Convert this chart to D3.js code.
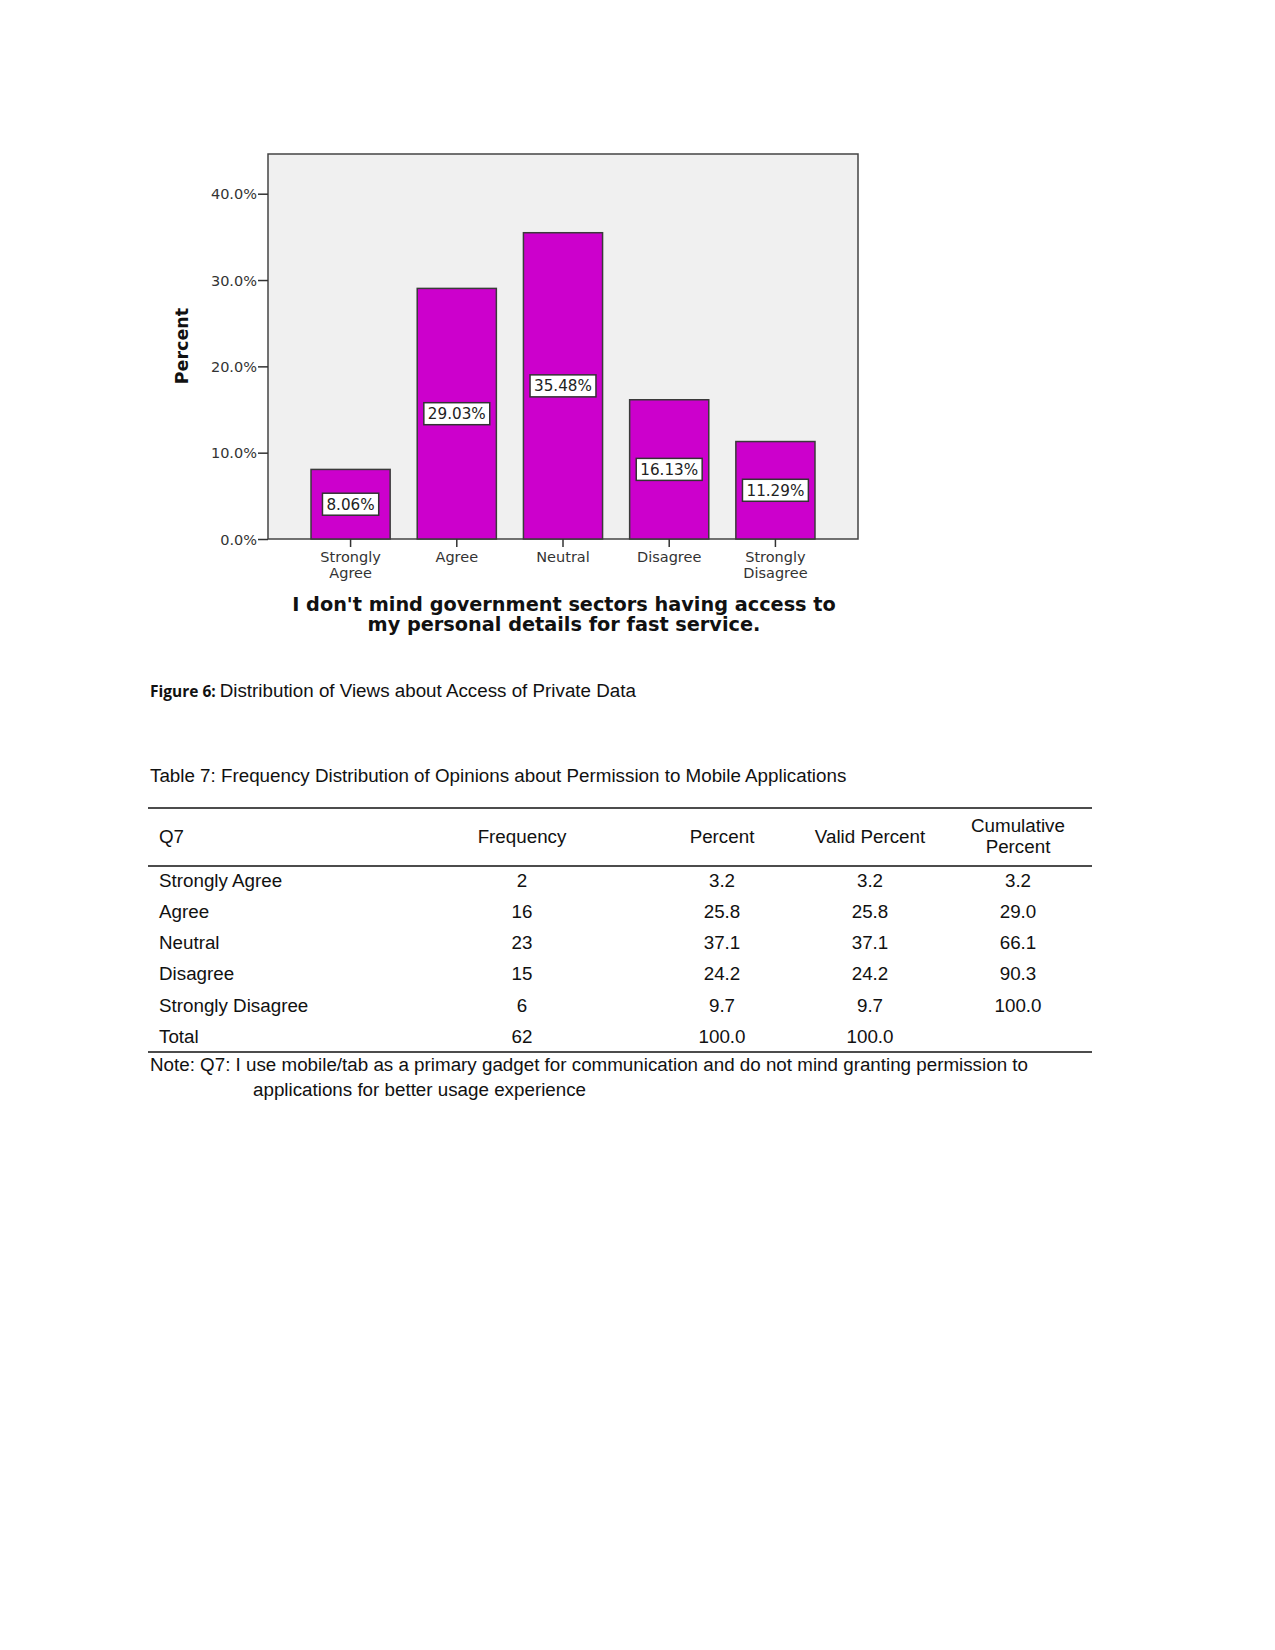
<!DOCTYPE html>
<html><head><meta charset="utf-8">
<script src="https://cdn.jsdelivr.net/npm/d3@7"></script>
<style>
html,body{margin:0;padding:0;background:#fff;}
svg{display:block;}
</style></head>
<body>
<script>
// ---- Data ----
const categories = [["Strongly","Agree"],["Agree"],["Neutral"],["Disagree"],["Strongly","Disagree"]];
const percents = [8.06, 29.03, 35.48, 16.13, 11.29];
const yTicks = [0, 10, 20, 30, 40];
const xTitle = ["I don't mind government sectors having access to", "my personal details for fast service."];
const yTitle = "Percent";

const tableHeader = ["Q7", "Frequency", "Percent", "Valid Percent", ["Cumulative","Percent"]];
const rowLabels = ["Strongly Agree","Agree","Neutral","Disagree","Strongly Disagree","Total"];
const frequency = ["2","16","23","15","6","62"];
const percentCol = ["3.2","25.8","37.1","24.2","9.7","100.0"];
const validPercent = ["3.2","25.8","37.1","24.2","9.7","100.0"];
const cumulativePercent = ["3.2","29.0","66.1","90.3","100.0",""];

const W = 1275, H = 1650;
const svg = d3.select("body").append("svg").attr("width", W).attr("height", H);
svg.append("rect").attr("width", W).attr("height", H).attr("fill", "#fff");

const chartFont = "DejaVu Sans, Verdana, sans-serif";

// ---- Chart ----
const plot = {left: 268, right: 858, top: 154, bottom: 539};
const y = d3.scaleLinear().domain([0, 44.6]).range([plot.bottom, plot.top]);
const keys = categories.map(c => c.join(" "));
const x = d3.scaleBand().domain(keys).range([plot.left, plot.right]).paddingInner(0.255).paddingOuter(0.405);

svg.append("rect").attr("x", plot.left).attr("y", plot.top)
  .attr("width", plot.right - plot.left).attr("height", plot.bottom - plot.top)
  .attr("fill", "#f0f0f0").attr("stroke", "#444").attr("stroke-width", 1.5);

// bars
svg.selectAll("rect.bar").data(percents).enter().append("rect")
  .attr("class", "bar")
  .attr("x", (d, i) => x(keys[i]))
  .attr("y", d => y(d))
  .attr("width", x.bandwidth())
  .attr("height", d => y(0) - y(d))
  .attr("fill", "#cc00cc").attr("stroke", "#3a3a3a").attr("stroke-width", 1.5);

// value labels
const lbl = svg.selectAll("g.lbl").data(percents).enter().append("g")
  .attr("class", "lbl")
  .attr("transform", (d, i) => `translate(${x(keys[i]) + x.bandwidth() / 2},${y(d / 2)})`);
const lblRect = lbl.append("rect").attr("fill", "#fff").attr("stroke", "#333").attr("stroke-width", 1.5);
const lblText = lbl.append("text").attr("text-anchor", "middle").attr("dy", "0.36em")
  .attr("font-family", chartFont).attr("font-size", 15.2)
  .attr("fill", "#222").text(d => d.toFixed(2) + "%");
lblText.each(function(d, i) {
  const w = this.getBBox().width;
  d3.select(lblRect.nodes()[i]).attr("x", -w / 2 - 4).attr("y", -11).attr("width", w + 8).attr("height", 22);
});

// y axis
const yAxis = d3.axisLeft(y).tickValues(yTicks).tickSize(10).tickFormat(d => d.toFixed(1) + "%");
const gy = svg.append("g").attr("transform", `translate(${plot.left},0)`).call(yAxis);
gy.select(".domain").remove();
gy.selectAll(".tick line").attr("stroke", "#333").attr("stroke-width", 1.5);
gy.selectAll(".tick text").attr("font-family", chartFont)
  .attr("font-size", 14.5).attr("fill", "#333").attr("x", -11).attr("dy", "0.36em");

// x axis
const xAxis = d3.axisBottom(x).tickSize(8).tickFormat("");
const gx = svg.append("g").attr("transform", `translate(0,${plot.bottom})`).call(xAxis);
gx.select(".domain").remove();
gx.selectAll(".tick line").attr("stroke", "#333").attr("stroke-width", 1.5);
categories.forEach((c, i) => {
  const t = svg.append("text").attr("text-anchor", "middle")
    .attr("font-family", chartFont).attr("font-size", 14.5).attr("fill", "#333");
  c.forEach((line, j) => {
    t.append("tspan").attr("x", x(keys[i]) + x.bandwidth() / 2).attr("y", 562 + j * 15.5).text(line);
  });
});

// axis titles
svg.append("text").attr("transform", "translate(188,346) rotate(-90)")
  .attr("text-anchor", "middle").attr("font-family", chartFont)
  .attr("font-weight", "bold").attr("font-size", 17.5).attr("fill", "#111").text(yTitle);
xTitle.forEach((line, j) => {
  svg.append("text").attr("x", 564).attr("y", 611 + j * 20).attr("text-anchor", "middle")
    .attr("font-family", chartFont).attr("font-weight", "bold")
    .attr("font-size", 19.3).attr("fill", "#111").text(line);
});

// ---- Caption ----
const font = "Liberation Sans, Arial, sans-serif";
const fs = 18.8;
const cap = svg.append("text").attr("x", 150).attr("y", 697)
  .attr("font-family", font).attr("font-size", fs).attr("fill", "#111");
cap.append("tspan").attr("font-family", "Open Sans, Lato, sans-serif").attr("font-weight", "bold").attr("font-size", 15.5).text("Figure 6: ");
cap.append("tspan").text("Distribution of Views about Access of Private Data");

// ---- Table ----
svg.append("text").attr("x", 150).attr("y", 782).attr("font-family", font).attr("font-size", fs)
  .attr("fill", "#111").text("Table 7: Frequency Distribution of Opinions about Permission to Mobile Applications");

const tL = 148, tR = 1092;
[808, 866, 1052].forEach(yy => svg.append("line").attr("x1", tL).attr("x2", tR).attr("y1", yy).attr("y2", yy)
  .attr("stroke", "#111").attr("stroke-width", 1.3));

const colX = [159, 522, 722, 870, 1018];
tableHeader.forEach((h, i) => {
  const t = svg.append("text").attr("font-family", font).attr("font-size", fs).attr("fill", "#111")
    .attr("text-anchor", i === 0 ? "start" : "middle");
  if (Array.isArray(h)) {
    h.forEach((line, j) => t.append("tspan").attr("x", colX[i]).attr("y", 832 + j * 21).text(line));
  } else {
    t.attr("x", colX[i]).attr("y", 843).text(h);
  }
});

const rowY = [887, 918, 949, 980, 1012, 1043];
const cols = [rowLabels, frequency, percentCol, validPercent, cumulativePercent];
cols.forEach((col, i) => {
  col.forEach((v, r) => {
    svg.append("text").attr("x", colX[i]).attr("y", rowY[r]).attr("font-family", font).attr("font-size", fs)
      .attr("fill", "#111").attr("text-anchor", i === 0 ? "start" : "middle").text(v);
  });
});

svg.append("text").attr("x", 150).attr("y", 1071).attr("font-family", font).attr("font-size", fs).attr("fill", "#111")
  .text("Note: Q7: I use mobile/tab as a primary gadget for communication and do not mind granting permission to");
svg.append("text").attr("x", 253).attr("y", 1096).attr("font-family", font).attr("font-size", fs).attr("fill", "#111")
  .text("applications for better usage experience");
</script>
</body></html>
